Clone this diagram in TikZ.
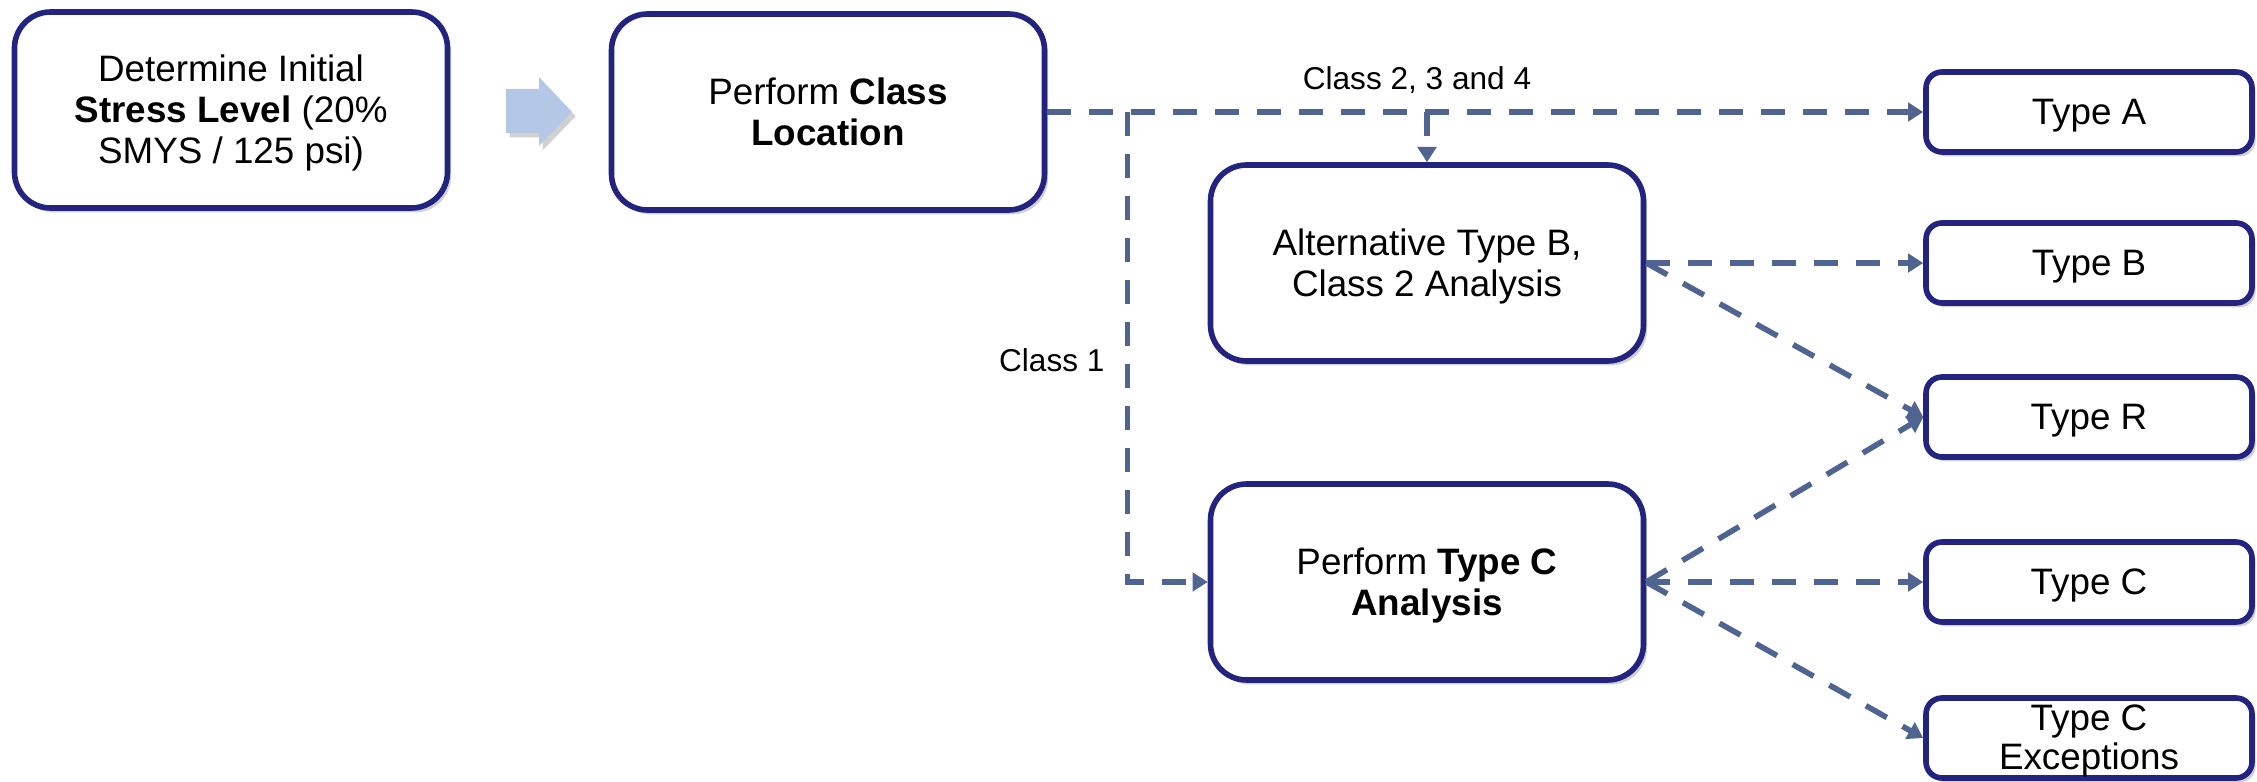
\documentclass[tikz,border=0pt]{standalone}
\usepackage{fontspec}
\setmainfont{Liberation Sans}
\usetikzlibrary{arrows.meta,shadows}

\definecolor{boxline}{RGB}{35,35,128}
\definecolor{flowline}{RGB}{80,100,146}
\definecolor{bigarrow}{RGB}{180,199,231}

% text block, set a little low in its box
\newcommand{\boxtext}[1]{\raisebox{-1.1pt}[\height][\depth]{\begin{tabular}{@{}c@{}}#1\end{tabular}}}

\tikzset{every picture/.style={line width=0.75pt}}
\tikzset{
  stepbox/.style={draw=boxline, line width=1.4pt, fill=white, rounded corners=9pt,
    minimum width=108.25pt, minimum height=49pt, inner sep=0pt,
    font=\fontsize{9.2}{10.3}\selectfont,
    drop shadow={shadow xshift=0.9pt, shadow yshift=-1.1pt, fill=black, opacity=0.18}},
  typebox/.style={stepbox, rounded corners=4pt, minimum width=81.5pt, minimum height=20pt},
  flow/.style={draw=flowline, line width=1.4pt, dash pattern=on 6pt off 4.5pt,
    -{Triangle[length=3.8pt,width=4.6pt]}},
  lbl/.style={font=\fontsize{7.9}{9}\selectfont, inner sep=0pt}
}

\begin{document}
\begin{tikzpicture}[x=0.25pt,y=0.25pt,yscale=-1,xscale=1]
\useasboundingbox (0,0) rectangle (2257,781);

% steps
\node [stepbox] (stress) at (231,110) {\boxtext{Determine Initial\\\textbf{Stress Level} (20\%\\SMYS / 125 psi)}};
\node [stepbox] (loc) at (828,112) {\boxtext{Perform \textbf{Class}\\\textbf{Location}}};
\node [stepbox] (altb) at (1427,263) {\boxtext{Alternative Type B,\\Class 2 Analysis}};
\node [stepbox] (tca) at (1427,582) {\boxtext{Perform \textbf{Type C}\\\textbf{Analysis}}};

% outcomes
\node [typebox] (ta) at (2089,112) {\boxtext{Type A}};
\node [typebox] (tb) at (2089,263) {\boxtext{Type B}};
\node [typebox] (tr) at (2089,417) {\boxtext{Type R}};
\node [typebox] (tc) at (2089,582) {\boxtext{Type C}};
\node [typebox, font=\fontsize{9.2}{9.6}\selectfont] (tce) at (2089,738) {\boxtext{Type C\\Exceptions}};

% block arrow
\draw [fill=bigarrow, draw=none, drop shadow={shadow xshift=0.9pt, shadow yshift=-1.1pt, fill=black, opacity=0.18}]
  (506,89) -- (539,89) -- (539,77) -- (572,112) -- (539,146) -- (539,133) -- (506,133) -- cycle ;

% connectors
\coordinate (c1) at (1127.5,112);
\draw [flow] (loc.east) -- (ta.west) ;
\draw [flow] (c1) |- (tca.west) ;
\draw [flow] (altb.north |- loc.east) -- (altb.north) ;
\draw [flow] (altb.east) -- (tb.west) ;
\draw [flow] (altb.east) -- (tr.west) ;
\draw [flow] (tca.east) -- (tr.west) ;
\draw [flow] (tca.east) -- (tc.west) ;
\draw [flow] (tca.east) -- (tce.west) ;

\node [lbl] (cls234) at (1417,80) {Class 2, 3 and 4};
\node [lbl, anchor=east] (cls1) at (1106,360) {Class 1};

\end{tikzpicture}
\end{document}
